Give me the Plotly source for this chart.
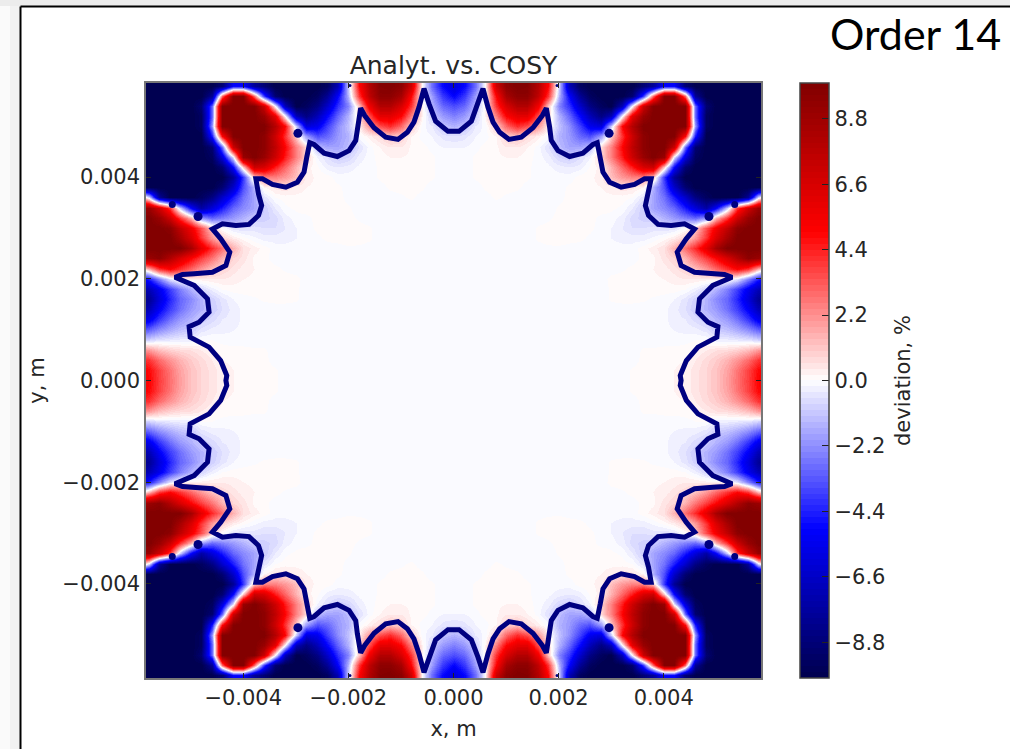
import numpy as np
import plotly.graph_objects as go

TITLE = "Analyt. vs. COSY"
ORDER_LABEL = "Order 14"
CBAR_LABEL = "deviation, %"
X_TICKS = [-0.004, -0.002, 0.0, 0.002, 0.004]
Y_TICKS = [-0.004, -0.002, 0.0, 0.002, 0.004]
CBAR_TICKS = [-8.8, -6.6, -4.4, -2.2, 0.0, 2.2, 4.4, 6.6, 8.8]

# grid in mm, first quadrant; rows from y=6.0 down to y=0.0, columns x=0.0..6.0
grid_mm = [i * 0.2 for i in range(31)]
F = -0.15
N6 = [-10] * 6
rows_q1 = [
    [-6,-5,-3,0,7,9.5,10,9.8,8,5,-1,-7,-9.5,-10,-10,-10,-10,-10,-9,-8,-6,-6,-9,-10,-10,-10,-10,-10,-10,-10,-10],
    [-6,-5,-3,0,7,9.5,10,9.8,8,5,-1,-7,-9.5,-10,-10,-10,-10,-10,-9,-8,-5,-5,-9,-10,-10,-10,-10,-10,-10,-10,-10],
    [-5,-4,-2,0,5,8.5,9.5,9.5,7.5,4,-1.5,-5,-8,-9.5,-10,-10,-10,-9,-4,3,10,10,3,-8,-10,-10,-10,-10,-10,-10,-10],
    [-3.5,-3,-1.5,.3,4,6.5,8,8,5.5,1.2,-2.5,-4,-6.5,-8.5,-9.5,-10,-7,0,7,10,10,10,10,-3,-9]+N6,
    [-2.5,-2,-1,.2,2.5,5,6,6,3.5,.8,-1.5,-3,-5,-7,-8.5,-7,0,6,9,10,10,10,10,-3,-9.5]+N6,
    [-1.5,-1.2,-.4,-.1,1,3,4.2,3.5,2,.3,-1.2,-2.2,-3.8,-5.5,-6,-1,5,8,10,10,10,10,10,-2,-9.5]+N6,
    [-.6,-.5,-.2,-.1,.2,.9,1.2,.7,.3,-.1,-1.5,-2,-3,-3.5,-2,1,4,7,9.5,10,10,10,5,-4.5,-10]+N6,
    [-.2,-.2,-.1,.1,.15,.4,.4,.2,-.1,-.6,-1.3,-1.8,-1.8,-1.2,.8,2.5,5,7.5,9.5,10,10,7,-3,-9,-10]+N6,
    [F,F,.05,.15,.15,.2,.2,.1,-.1,-.3,-.8,-1,-.6,-.2,.9,2.5,4.5,7,9,10,9,-.5,-6,-9.5,-10]+N6,
    [F,F,.05,.15,.15,.15,.15,.05,-.1,F,-.3,-.4,-.3,.05,.3,1.5,3,4.5,6.5,7,1,-5,-9,-10,-10]+N6,
    [F,F,.05,.15,.15,.15,.15,.05,-.1,-.1,-.1,-.1,.1,.15,.3,1.3,2,2.5,2.5,1.2,-4,-8,-10,-10,-10]+N6,
    [F,F,F,.05,.1,.1,.05,-.1,F,F,-.1,.05,.1,.15,.2,.3,.6,.5,.2,-1.5,-3.5,-6.5,-9,-10,-10]+N6,
    [F,F,F,-.1,.05,-.05,-.1,F,F,F,-.1,.1,.15,.15,.15,.15,.1,0,-.5,-1.8,-2.8,-4.5,-6.5,-8.5,-9.5,-10,-10,-10,-8,-1,3],
    [F]*10+[.05,.1,.15,.15,.15,.05,-.05,-.4,-1,-1.8,-2.3,-3,-4.5,-6,-7.5,-5,-1,4,7,9,9],
    [F]*9+[-.05,.1,.15,.15,.1,-.1,-.1,-.3,-.7,-.9,-1,-1.5,-2,-2.5,-3,-2,1.5,4,7,9,10,10],
    [F]*8+[.05,.1,.15,.15,.1,.05,-.1,-.2,-.4,-.6,-.6,-.5,-.6,-.5,0,1,3.5,5.5,7.5,9.5,10,10,10],
    [F]*8+[.05,.1,.15,.1,.05,-.05,F,-.2,-.25,-.3,-.3,F,.1,.4,.9,2,4,6.5,8.5,10,10,10,10],
    [F]*8+[-.1,-.05,-.05,-.1,-.1,F,F,F,F,-.1,.1,.3,.6,1.5,2.8,4.2,6,8.5,10,10,10,10,10],
    [F]*18+[.1,.15,.5,.8,1.5,2.7,3.8,5,6.5,8,9.5,9,8.5],
    [F]*16+[-.05,.1,.15,.2,.3,.5,.8,1.2,2,3,4,5,4,1.5,-.5],
    [F]*15+[.1,.15,.15,.15,.15,.2,.3,.4,.4,.3,.3,.2,-.5,-2.5,-4.5,-6],
    [F]*15+[.05,.1,.15,.15,.15,.1,.1,0,-.3,-.8,-1.5,-2.5,-3.8,-5.5,-7,-8],
    [F]*15+[.05,.1,.1,.05,-.05,-.1,-.2,-.5,-.9,-1.5,-2.3,-3,-4.3,-6,-8,-8.5],
    [F]*19+[-.1,F,-.3,-.6,-1,-1.5,-2,-2.8,-3.8,-5.2,-7,-8],
    [F]*21+[-.3,-.4,-.7,-1,-1.5,-2,-2.8,-4,-5.5,-6.5],
    [F]*21+[-.2,-.25,-.3,-.5,-1,-1.2,-1.6,-2.2,-3,-3.6],
    [F]*22+[-.1,0,0,-.3,-.3,-.4,-.5,-.8,-.8],
    [F]*18+[.05,.05,.1,.1,.15,.2,.4,.6,.7,.9,1.3,2,2.4],
    [F]*18+[.1,.15,.15,.15,.2,.4,.7,1,1.5,2.1,2.9,4,4.6],
    [F]*17+[.05,.15,.15,.15,.2,.3,.5,.8,1.2,1.8,2.7,3.7,4.9,5.5],
    [F]*17+[.05,.15,.15,.15,.2,.3,.5,.8,1.2,1.9,2.8,3.8,5,5.6],
]
assert all(len(r) == 31 for r in rows_q1) and len(rows_q1) == 31

# contour line in the first quadrant, mm
line_x_mm = [0,.105,.34,.466,.561,.656,.752,.878,1.056,1.29,1.512,1.69,1.766,1.829,1.86,1.987,2.209,2.462,2.653,2.735,
             2.792,2.843,2.97,3.19,3.445,3.635,3.76,3.71,3.65,3.71,3.89,4.14,4.395,4.586,4.427,4.256,4.33,4.586,4.934,
             5.156,5.30,4.934,4.68,4.65,4.84,5.03,5.01,4.65,4.43,4.313,4.33]
line_y_mm = [4.90,4.90,5.10,5.44,5.74,5.375,5.08,4.88,4.74,4.785,4.97,5.21,5.355,4.98,4.72,4.52,4.405,4.47,4.64,4.675,
             4.39,4.10,3.90,3.80,3.855,3.965,3.965,3.67,3.44,3.245,3.07,3.05,3.08,2.98,2.786,2.524,2.26,2.13,2.10,
             2.085,2.03,1.87,1.606,1.344,1.147,1.06,.85,.656,.393,.098,0]
# isolated contour islands in the first quadrant, mm
blob_x_mm = [2.96, 4.86, 5.35, 1.97]
blob_y_mm = [4.86, 3.225, 3.46, 5.80]
blob_size = [9, 9, 7, 3]

# mirror the quadrant
q = np.array(rows_q1, dtype=float)[::-1]          # y ascending 0..6
top = np.hstack([q[:, :0:-1], q])                  # x -6..6
z = np.vstack([top[:0:-1], top])
g = np.array(grid_mm)
axis = np.concatenate([-g[:0:-1], g]) * 1e-3

lx, ly = np.array(line_x_mm) * 1e-3, np.array(line_y_mm) * 1e-3
loop_x = np.concatenate([lx, lx[::-1][1:], -lx[1:], -lx[::-1][1:]])
loop_y = np.concatenate([ly, -ly[::-1][1:], -ly[1:], ly[::-1][1:]])
bx, by = np.array(blob_x_mm) * 1e-3, np.array(blob_y_mm) * 1e-3
bs = blob_size * 4


def seismic_rgb(t):
    stops = [(0, (0, 0, 77)), (.25, (0, 0, 255)), (.5, (255, 255, 255)), (.75, (255, 0, 0)), (1, (128, 0, 0))]
    for (a, ca), (b, cb) in zip(stops, stops[1:]):
        if t <= b:
            f = (t - a) / (b - a)
            return "rgb(%d,%d,%d)" % tuple(round(p + (s - p) * f) for p, s in zip(ca, cb))


# 100 filled levels, as a filled-contour plot has
LEVELS = 100
stepped = []
for i in range(LEVELS):
    c = seismic_rgb((i + 0.5) / LEVELS)
    stepped += [[i / LEVELS, c], [(i + 1) / LEVELS, c]]

FONT = "DejaVu Sans"
TXT = "#262626"
W, H = 1010, 749
L, R, T, B = 146, 761, 83, 678
px = lambda v: (v - L) / (R - L)
py = lambda v: (B - v) / (B - T)

fig = go.Figure()
fig.add_trace(go.Heatmap(
    x=axis, y=axis, z=z, zmin=-10, zmax=10, zsmooth="best", colorscale=stepped,
    colorbar=dict(
        thickness=29, thicknessmode="pixels", len=1, lenmode="fraction", x=px(800), xanchor="left",
        y=0.5, yanchor="middle", xpad=0, ypad=0, outlinewidth=1.5, outlinecolor="#444",
        tickmode="array", tickvals=CBAR_TICKS, ticktext=[f"{v:.1f}".replace("-", "\u2212") for v in CBAR_TICKS],
        ticks="inside", ticklen=7, tickcolor="#222", tickwidth=1,
        tickfont=dict(family=FONT, size=21, color=TXT),
    ),
))
fig.add_trace(go.Scatter(x=loop_x, y=loop_y, mode="lines", line=dict(color="#000080", width=5),
                         hoverinfo="skip", showlegend=False))
fig.add_trace(go.Scatter(
    x=np.concatenate([bx, -bx, bx, -bx]), y=np.concatenate([by, by, -by, -by]),
    mode="markers", marker=dict(color="#000080", size=bs, opacity=1, line=dict(width=0)),
    hoverinfo="skip", showlegend=False))

common = dict(range=[-0.00585, 0.00585], showgrid=False, zeroline=False, ticks="inside", ticklen=5,
              tickcolor="#222", tickwidth=1, mirror="ticks", showline=True, linecolor="#777", linewidth=1.5,
              tickformat=".3f", tickfont=dict(family=FONT, size=21, color=TXT))
fig.update_xaxes(tickmode="array", tickvals=X_TICKS,
                 title=dict(text="x, m", font=dict(family=FONT, size=21, color=TXT), standoff=12), **common)
fig.update_yaxes(tickmode="array", tickvals=Y_TICKS,
                 title=dict(text="y, m", font=dict(family=FONT, size=21, color=TXT), standoff=12), **common)

shapes = [
    dict(type="rect", xref="paper", yref="paper", x0=px(0), x1=px(1010), y0=py(0), y1=py(6),
         fillcolor="#ececec", line_width=0, layer="below"),
    dict(type="rect", xref="paper", yref="paper", x0=px(10), x1=px(20), y0=py(6), y1=py(749),
         fillcolor="#f2f2f2", line_width=0, layer="below"),
    dict(type="rect", xref="paper", yref="paper", x0=px(0), x1=px(10), y0=py(6), y1=py(749),
         fillcolor="#fafafa", line_width=0, layer="below"),
    dict(type="line", xref="paper", yref="paper", x0=px(20.5), x1=px(1010), y0=py(6.5), y1=py(6.5),
         line=dict(color="black", width=2)),
    dict(type="line", xref="paper", yref="paper", x0=px(20.5), x1=px(20.5), y0=py(6.5), y1=py(749),
         line=dict(color="black", width=2)),
]
fig.update_layout(
    width=W, height=H, autosize=False, paper_bgcolor="white", plot_bgcolor="white",
    margin=dict(l=L, r=W - R, t=T, b=H - B, pad=0), shapes=shapes,
    title=dict(text=TITLE, font=dict(family=FONT, size=25, color=TXT), x=0.5, xref="paper", xanchor="center",
               y=1, yref="paper", yanchor="bottom", pad=dict(b=9)),
    annotations=[
        dict(text=ORDER_LABEL, xref="paper", yref="paper", x=px(1003), y=py(33), xanchor="right",
             yanchor="middle", showarrow=False, font=dict(family="Lato", size=43, color="black")),
        dict(text=CBAR_LABEL, xref="paper", yref="paper", x=px(903), y=py(381), xanchor="center",
             yanchor="middle", textangle=-90, showarrow=False, font=dict(family=FONT, size=21, color=TXT)),
    ],
)
fig.write_html("out.html", config={"displayModeBar": False},
               post_script="document.body.style.margin='0';document.body.style.overflow='hidden';")
